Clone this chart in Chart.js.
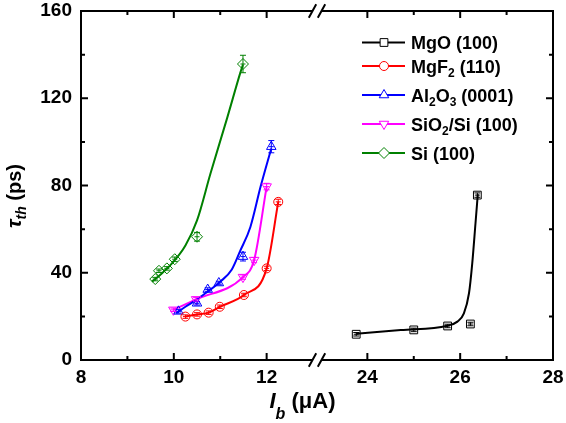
<!DOCTYPE html>
<html>
<head>
<meta charset="utf-8">
<script src="https://cdn.jsdelivr.net/npm/chart.js@4.4.0/dist/chart.umd.min.js"></script>
<style>
html, body { margin: 0; padding: 0; background: #fff; }
</style>
</head>
<body>
<canvas id="tauChart" width="566" height="423"></canvas>
<script>
// values: I_b (uA), tau_th (ps), error (ps)
const mgoX = [23.76, 25.0, 25.73, 26.22, 26.37];
const mgoY = [11.8, 13.8, 15.6, 16.5, 75.6];
const mgoErr = [0.8, 0.8, 0.8, 0.8, 1.0];
const mgoFitX = [23.76, 24.72, 25.72, 25.94, 26.08, 26.19, 26.26, 26.33, 26.38];
const mgoFitY = [12.0, 13.7, 15.7, 17.6, 21.4, 30.6, 44.3, 62.7, 76.0];

const mgf2X = [10.25, 10.5, 10.75, 10.99, 11.51, 12.0, 12.25];
const mgf2Y = [19.9, 20.9, 21.7, 24.4, 29.8, 42.0, 72.5];
const mgf2Err = [0.8, 0.8, 0.8, 0.8, 0.8, 1.0, 1.2];

const al2o3X = [10.1, 10.5, 10.73, 10.97, 11.49, 12.1];
const al2o3Y = [22.3, 26.0, 32.3, 35.3, 47.4, 97.8];
const al2o3Err = [0.8, 0.8, 0.8, 0.8, 2.0, 2.8];
const al2o3FitX = [10.05, 10.25, 10.5, 10.68, 11.0, 11.25, 11.43, 11.65, 11.87, 12.1];
const al2o3FitY = [21.5, 24.4, 27.8, 30.6, 35.9, 41.5, 50.0, 61.0, 79.5, 97.0];

const sio2X = [9.99, 10.48, 11.49, 11.73, 12.0];
const sio2Y = [23.0, 27.8, 38.0, 45.8, 79.5];
const sio2Err = [0.8, 0.8, 1.0, 1.2, 1.5];

const siX = [9.60, 9.68, 9.85, 10.02, 10.50, 11.49];
const siY = [37.1, 40.9, 42.0, 46.2, 56.5, 135.7];
const siErr = [0.8, 0.8, 0.8, 1.0, 2.0, 4.0];
const siFitX = [9.53, 9.74, 9.96, 10.25, 10.5, 10.79, 11.15, 11.43, 11.49];
const siFitY = [35.9, 39.7, 44.3, 52.5, 64.0, 85.5, 111.0, 131.5, 135.5];

const xTickValues = [8, 9, 10, 11, 12, 24, 25, 26, 27, 28];
const yTickValues = [0, 20, 40, 60, 80, 100, 120, 140, 160];

// broken x axis: 8..13 | 23..28
const BREAK_LO = 13, BREAK_HI = 23, GAP = 0.17;
function toAxis(v) { return v <= BREAK_LO ? v - 8 : v - BREAK_HI + 5 + GAP; }
function fromAxis(d) { return d <= 5 + GAP / 2 ? d + 8 : d - 5 - GAP + BREAK_HI; }

function pts(xs, ys) { return xs.map((x, i) => ({ x: toAxis(x), y: ys[i] })); }

const FONT = '"Liberation Sans", Arial, sans-serif';

function fitLine(xs, ys, color) {
    return {
        data: pts(xs, ys),
        showLine: true,
        borderColor: color,
        borderWidth: 2,
        pointRadius: 0,
        cubicInterpolationMode: 'monotone',
        fill: false
    };
}

function markers(xs, ys, err, color, style, radius, rotation) {
    return {
        data: pts(xs, ys),
        showLine: false,
        borderColor: color,
        backgroundColor: 'rgba(255,255,255,0)',
        borderWidth: 1,
        pointStyle: style,
        pointRadius: radius,
        pointRotation: rotation || 0,
        errY: err
    };
}

const legendItems = [
    { parts: [['MgO (100)', 0]], color: '#000000', style: 'rect', radius: 5.5, rotation: 0 },
    { parts: [['MgF', 0], ['2', 1], [' (110)', 0]], color: '#ff0000', style: 'circle', radius: 4.5, rotation: 0 },
    { parts: [['Al', 0], ['2', 1], ['O', 0], ['3', 1], [' (0001)', 0]], color: '#0000ff', style: 'triangle', radius: 5.5, rotation: 0 },
    { parts: [['SiO', 0], ['2', 1], ['/Si (100)', 0]], color: '#ff00ff', style: 'triangle', radius: 5.5, rotation: 180 },
    { parts: [['Si (100)', 0]], color: '#008000', style: 'rectRot', radius: 5.5, rotation: 0 }
];
const legendRows = [42.5, 66, 95, 124, 153];

// error bars
const errorBars = {
    id: 'errorBars',
    afterDatasetsDraw(chart) {
        const ctx = chart.ctx;
        const xs = chart.scales.x, ys = chart.scales.y;
        chart.data.datasets.forEach(ds => {
            if (!ds.errY) return;
            ctx.save();
            ctx.strokeStyle = ds.borderColor;
            ctx.lineWidth = 1;
            ds.data.forEach((p, i) => {
                const px = xs.getPixelForValue(p.x);
                const py = ys.getPixelForValue(p.y);
                const top = ys.getPixelForValue(p.y + ds.errY[i]);
                const bot = ys.getPixelForValue(p.y - ds.errY[i]);
                ctx.beginPath();
                ctx.moveTo(px, top); ctx.lineTo(px, bot);
                ctx.moveTo(px - 3, top); ctx.lineTo(px + 3, top);
                ctx.moveTo(px - 3, bot); ctx.lineTo(px + 3, bot);
                ctx.moveTo(px - 2.5, py); ctx.lineTo(px + 2.5, py);
                ctx.stroke();
            });
            ctx.restore();
        });
    }
};

// frame, inward ticks, axis break, titles and legend
const decorations = {
    id: 'decorations',
    afterDraw(chart) {
        const ctx = chart.ctx;
        const a = chart.chartArea;
        const xs = chart.scales.x, ys = chart.scales.y;
        const cx = xs.getPixelForValue(5 + GAP / 2);
        ctx.save();
        ctx.strokeStyle = '#000';
        ctx.lineWidth = 2;
        ctx.lineCap = 'butt';
        ctx.beginPath();
        ctx.moveTo(a.left, a.top - 1); ctx.lineTo(a.left, a.bottom + 1);
        ctx.moveTo(a.right, a.top - 1); ctx.lineTo(a.right, a.bottom + 1);
        [a.top, a.bottom].forEach(y => {
            ctx.moveTo(a.left, y); ctx.lineTo(cx - 4.5, y);
            ctx.moveTo(cx + 4.5, y); ctx.lineTo(a.right, y);
        });
        // y ticks
        yTickValues.forEach(v => {
            const y = ys.getPixelForValue(v);
            const len = v % 40 === 0 ? 7 : 4;
            ctx.moveTo(a.left, y); ctx.lineTo(a.left + len, y);
            ctx.moveTo(a.right, y); ctx.lineTo(a.right - len, y);
        });
        // x ticks
        xTickValues.forEach(v => {
            const x = xs.getPixelForValue(toAxis(v));
            const len = v % 2 === 0 ? 7 : 4;
            ctx.moveTo(x, a.bottom); ctx.lineTo(x, a.bottom - len);
            ctx.moveTo(x, a.top); ctx.lineTo(x, a.top + len);
        });
        // break slashes
        [a.top, a.bottom].forEach(y => {
            [-4.5, 4.5].forEach(o => {
                ctx.moveTo(cx + o - 3.7, y + 6.7);
                ctx.lineTo(cx + o + 3.7, y - 6.7);
            });
        });
        ctx.stroke();

        // y title: tau_th (ps)
        ctx.fillStyle = '#000';
        ctx.textBaseline = 'alphabetic';
        ctx.textAlign = 'left';
        ctx.translate(21, 196);
        ctx.rotate(-Math.PI / 2);
        const yParts = [['\u03c4', 'italic bold 21px ' + FONT, 0], ['th', 'italic bold 14px ' + FONT, 5], [' (ps)', 'bold 20px ' + FONT, 0]];
        let w = 0;
        yParts.forEach(p => { ctx.font = p[1]; w += ctx.measureText(p[0]).width; });
        let x0 = -w / 2;
        yParts.forEach(p => { ctx.font = p[1]; ctx.fillText(p[0], x0, p[2]); x0 += ctx.measureText(p[0]).width; });
        ctx.setTransform(1, 0, 0, 1, 0, 0);

        // x title: I_b (uA)
        const xParts = [['I', 'italic bold 22px ' + FONT, 0], ['b', 'italic bold 16px ' + FONT, 11], [' (\u03bcA)', 'bold 22px ' + FONT, 0]];
        w = 0;
        xParts.forEach(p => { ctx.font = p[1]; w += ctx.measureText(p[0]).width; });
        x0 = 302.5 - w / 2;
        xParts.forEach(p => { ctx.font = p[1]; ctx.fillText(p[0], x0, 408 + p[2]); x0 += ctx.measureText(p[0]).width; });

        // legend
        legendItems.forEach((it, i) => {
            const y = legendRows[i];
            ctx.strokeStyle = it.color;
            ctx.lineWidth = 2;
            ctx.beginPath();
            ctx.moveTo(362, y); ctx.lineTo(405, y);
            ctx.stroke();
            ctx.fillStyle = '#fff';
            ctx.lineWidth = 1;
            Chart.helpers.drawPoint(ctx, { pointStyle: it.style, radius: it.radius, rotation: it.rotation, borderWidth: 1 }, 384, y);
            ctx.fillStyle = '#000';
            let tx = 411;
            it.parts.forEach(p => {
                ctx.font = p[1] ? 'bold 12px ' + FONT : 'bold 18px ' + FONT;
                ctx.fillText(p[0], tx, y + 6.5 + (p[1] ? 4.5 : 0));
                tx += ctx.measureText(p[0]).width;
            });
        });
        ctx.restore();
    }
};

const ctx = document.getElementById('tauChart').getContext('2d');
const tauChart = new Chart(ctx, {
    type: 'scatter',
    data: {
        datasets: [
            markers(mgoX, mgoY, mgoErr, '#000000', 'rect', 5.5),
            markers(mgf2X, mgf2Y, mgf2Err, '#ff0000', 'circle', 4.5),
            markers(al2o3X, al2o3Y, al2o3Err, '#0000ff', 'triangle', 5.5),
            markers(sio2X, sio2Y, sio2Err, '#ff00ff', 'triangle', 5.5, 180),
            markers(siX, siY, siErr, '#008000', 'rectRot', 5.5),
            fitLine(mgoFitX, mgoFitY, '#000000'),
            fitLine(mgf2X, mgf2Y, '#ff0000'),
            fitLine(al2o3FitX, al2o3FitY, '#0000ff'),
            fitLine(sio2X, sio2Y, '#ff00ff'),
            fitLine(siFitX, siFitY, '#008000')
        ]
    },
    options: {
        responsive: false,
        animation: false,
        devicePixelRatio: 1,
        layout: { padding: { top: 11, right: 13, left: 0, bottom: 0 } },
        plugins: {
            legend: { display: false },
            tooltip: { enabled: false }
        },
        scales: {
            x: {
                type: 'linear',
                min: 0,
                max: 10 + GAP,
                grid: { display: false, drawTicks: false },
                border: { display: false },
                afterBuildTicks: scale => {
                    scale.ticks = xTickValues.map(v => ({ value: toAxis(v) }));
                },
                afterFit: scale => {
                    scale.height = 63;
                    // keep the end labels from shrinking the plot area
                    scale.paddingLeft = 0;
                    scale.paddingRight = 0;
                },
                ticks: {
                    autoSkip: false,
                    maxRotation: 0,
                    padding: 6,
                    color: '#000',
                    font: { family: FONT, size: 19, weight: 'bold' },
                    callback: value => {
                        const r = Math.round(fromAxis(value));
                        return r % 2 === 0 ? String(r) : '';
                    }
                }
            },
            y: {
                min: 0,
                max: 160,
                grid: { display: false, drawTicks: false },
                border: { display: false },
                afterFit: scale => {
                    scale.width = 81;
                    scale.paddingTop = 0;
                    scale.paddingBottom = 0;
                },
                ticks: {
                    stepSize: 40,
                    padding: 9,
                    color: '#000',
                    font: { family: FONT, size: 19, weight: 'bold' }
                }
            }
        }
    },
    plugins: [errorBars, decorations]
});
</script>
</body>
</html>
